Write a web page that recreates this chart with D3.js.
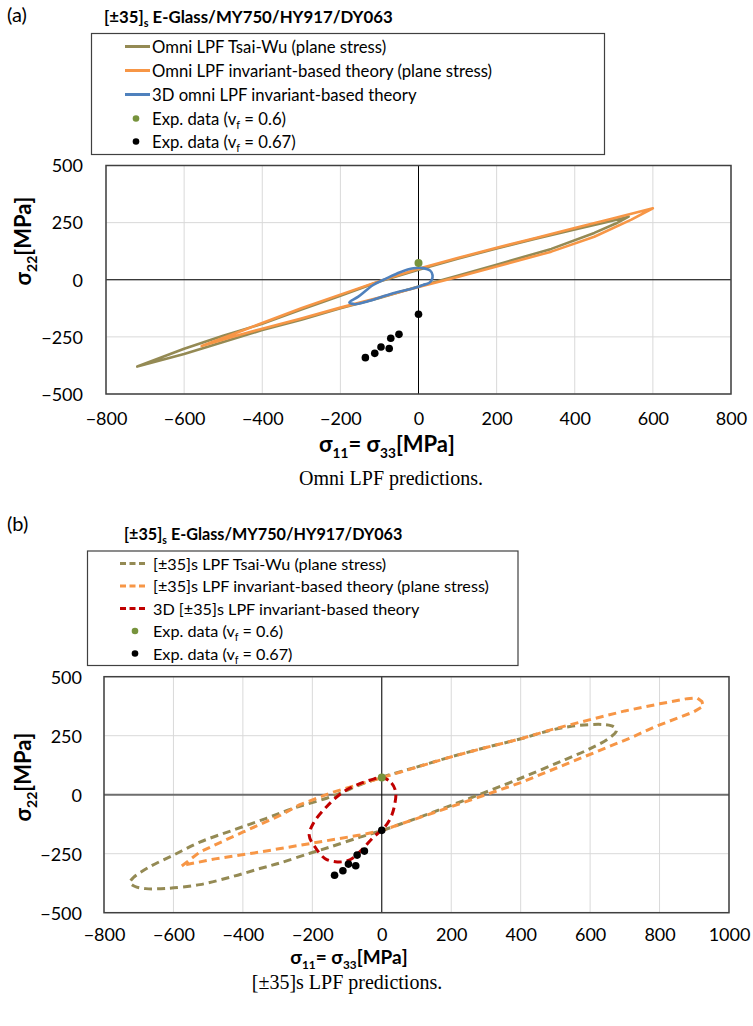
<!DOCTYPE html>
<html>
<head>
<meta charset="utf-8">
<script src="https://cdn.jsdelivr.net/npm/d3@7"></script>
<style>
  body { margin: 0; background: #fff; }
  svg { display: block; }
  .calib { font-family: Lato, "Open Sans", sans-serif; }
  .serif { font-family: "Liberation Serif", "Times New Roman", serif; }
</style>
</head>
<body>
<svg id="chart" width="753" height="1026"></svg>
<script>
// ---------- shared data ----------
const xTicksA = [-800, -600, -400, -200, 0, 200, 400, 600, 800];
const xTicksB = [-800, -600, -400, -200, 0, 200, 400, 600, 800, 1000];
const yTicks = [-500, -250, 0, 250, 500];

// Experimental failure stresses [sigma11 = sigma33, sigma22] in MPa
const expVf060 = [[0, 73]];
const expVf067 = [[0, -151], [-50, -239], [-71, -256], [-75, -301], [-96, -294], [-112, -322], [-136, -341]];

// ---------- (a) omni last-ply-failure envelopes ----------
const omniTsaiWu = [
  [-720, -380], [-600, -302], [-500, -245], [-400, -193], [-300, -130], [-200, -70], [-100, -8],
  [0, 44], [100, 92], [200, 137], [300, 180], [400, 220], [480, 252], [538, 276],
  [505, 246], [450, 205], [340, 135], [200, 66], [100, 18], [0, -30], [-100, -80],
  [-200, -125], [-300, -175], [-400, -220], [-500, -272], [-600, -325]
];
const omniInvariant = [
  [-555, -290], [-450, -222], [-400, -189], [-300, -125], [-200, -65], [-100, -6], [0, 48],
  [100, 95], [200, 140], [300, 183], [400, 226], [500, 269], [600, 313],
  [545, 263], [450, 188], [340, 123], [200, 58], [100, 12], [0, -32], [-100, -78],
  [-200, -122], [-300, -170], [-400, -214], [-480, -252]
];
const omni3D = [
  [-177, -99], [-154, -74], [-116, -23], [-82, 6], [-47, 33], [-13, 50], [12, 51], [30, 40],
  [36, 20], [34, 0], [27, -14], [12, -23], [-13, -37], [-65, -59], [-133, -96], [-163, -107]
];

// ---------- (b) [±35]s last-ply-failure envelopes ----------
const lamTsaiWu = [
  [0, 74], [100, 117], [201, 161], [300, 200], [398, 236], [484, 272], [542, 289], [600, 297],
  [640, 297], [668, 288], [676, 272], [657, 242], [600, 195], [530, 150], [446, 98], [350, 40],
  [200, -45], [100, -100], [0, -152], [-63, -180], [-150, -222], [-207, -248], [-293, -289],
  [-351, -313], [-428, -346], [-524, -381], [-620, -397], [-680, -398], [-712, -388], [-725, -372],
  [-716, -352], [-668, -305], [-600, -256], [-524, -201], [-428, -150], [-332, -100], [-255, -58],
  [-159, -15], [-111, 12], [-63, 42]
];
const lamInvariant = [
  [-576, -302], [-524, -243], [-450, -192], [-399, -158], [-293, -88], [-236, -42], [-140, 11],
  [-63, 45], [0, 72], [100, 116], [201, 161], [300, 200], [398, 236], [494, 278], [600, 318],
  [700, 355], [800, 385], [880, 407], [908, 410], [922, 395], [926, 375], [897, 350], [790, 290],
  [715, 240], [590, 165], [398, 50], [158, -72], [0, -152], [-63, -171], [-207, -207],
  [-351, -243], [-480, -272], [-562, -296]
];
const lam3D = [
  [0, 74], [28, 50], [40, 12], [38, -35], [28, -90], [9, -136], [-24, -180], [-63, -241],
  [-92, -276], [-128, -285], [-164, -270], [-192, -222], [-209, -172], [-197, -121], [-159, -51],
  [-111, 12], [-63, 47], [-24, 66]
];

// ---------- styles ----------
const OLIVE = "#948A54", ORANGE = "#F79646", BLUE = "#4F81BD", RED = "#C00000";
const GREEN = "#77933C", BLACK = "#000000";

const svg = d3.select("#chart");

// Writes text made of normal and subscript runs; shifts are in px so the baseline returns exactly.
function subText(sel, parts, fs, subFs) {
  const shift = fs * 0.26;
  let down = false;
  parts.forEach(([t, sub]) => {
    const ts = sel.append("tspan").text(t);
    if (sub) {
      ts.attr("font-size", subFs);
      if (!down) ts.attr("dy", shift);
      down = true;
    } else {
      if (down) ts.attr("dy", -shift);
      down = false;
    }
  });
}

function drawPanel(cfg) {
  const x = d3.scaleLinear().domain(cfg.xDomain).range([cfg.left, cfg.right]);
  const y = d3.scaleLinear().domain([-500, 500]).range([cfg.bottom, cfg.top]);
  const g = svg.append("g");

  // grid
  g.append("g").selectAll("line").data(cfg.xTicks).join("line")
    .attr("x1", d => x(d)).attr("x2", d => x(d)).attr("y1", cfg.top).attr("y2", cfg.bottom)
    .attr("stroke", "#d9d9d9").attr("stroke-width", 1);
  g.append("g").selectAll("line").data(yTicks).join("line")
    .attr("x1", cfg.left).attr("x2", cfg.right).attr("y1", d => y(d)).attr("y2", d => y(d))
    .attr("stroke", "#d9d9d9").attr("stroke-width", 1);

  // axes through the origin
  g.append("line").attr("x1", cfg.left).attr("x2", cfg.right).attr("y1", y(0)).attr("y2", y(0))
    .attr("stroke", cfg.hZeroColor).attr("stroke-width", cfg.hZeroWidth);
  g.append("line").attr("x1", x(0)).attr("x2", x(0)).attr("y1", cfg.top).attr("y2", cfg.bottom)
    .attr("stroke", "#000").attr("stroke-width", 1);

  // frame
  g.append("rect").attr("x", cfg.left).attr("y", cfg.top)
    .attr("width", cfg.right - cfg.left).attr("height", cfg.bottom - cfg.top)
    .attr("fill", "none").attr("stroke", "#404040").attr("stroke-width", 1.5);

  // tick labels
  const xAxis = d3.axisBottom(x).tickValues(cfg.xTicks).tickSize(0).tickPadding(0)
    .tickFormat(d3.format("d"));
  const xa = g.append("g").attr("transform", `translate(0,${cfg.xTickY})`).call(xAxis);
  xa.select(".domain").remove();
  xa.selectAll("text").attr("class", "calib").attr("font-size", 18).attr("fill", "#000")
    .attr("dy", "0.35em").attr("y", 0);

  const yAxis = d3.axisLeft(y).tickValues(yTicks).tickSize(0).tickPadding(0)
    .tickFormat(d3.format("d"));
  const ya = g.append("g").attr("transform", `translate(${cfg.yTickX},0)`).call(yAxis);
  ya.select(".domain").remove();
  ya.selectAll("text").attr("class", "calib").attr("font-size", 18).attr("fill", "#000")
    .attr("x", 0).attr("dy", "0.35em");

  // curves
  const clip = "clip" + cfg.id;
  svg.append("clipPath").attr("id", clip).append("rect")
    .attr("x", cfg.left).attr("y", cfg.top).attr("width", cfg.right - cfg.left).attr("height", cfg.bottom - cfg.top);
  const cg = g.append("g").attr("clip-path", `url(#${clip})`);
  cfg.series.forEach(s => {
    const line = d3.line().x(d => x(d[0])).y(d => y(d[1])).curve(s.curve);
    cg.append("path").attr("d", line(s.data)).attr("fill", "none")
      .attr("stroke", s.color).attr("stroke-width", s.width)
      .attr("stroke-dasharray", s.dash || null).attr("stroke-linejoin", "round")
      .attr("stroke-linecap", s.dash ? "butt" : "round");
  });
  cg.append("g").selectAll("circle").data(expVf060).join("circle")
    .attr("cx", d => x(d[0])).attr("cy", d => y(d[1])).attr("r", 4).attr("fill", GREEN);
  cg.append("g").selectAll("circle").data(expVf067).join("circle")
    .attr("cx", d => x(d[0])).attr("cy", d => y(d[1])).attr("r", 3.8).attr("fill", BLACK);

  // panel tag and title
  svg.append("text").attr("class", "calib").attr("x", 7).attr("y", cfg.tagY)
    .attr("font-size", 20).text(cfg.tag);
  const title = svg.append("text").attr("class", "calib").attr("x", cfg.titleX).attr("y", cfg.titleY)
    .attr("font-size", cfg.titleFs).attr("font-weight", 700);
  subText(title, [["[±35]", false], ["s", true], [" E-Glass/MY750/HY917/DY063", false]],
    cfg.titleFs, cfg.titleFs * 0.65);

  // legend
  const L = cfg.legend;
  const lg = svg.append("g");
  lg.append("rect").attr("x", L.x).attr("y", L.y).attr("width", L.w).attr("height", L.h)
    .attr("fill", "#fff").attr("stroke", "#404040").attr("stroke-width", 1.2);
  cfg.series.forEach((s, i) => {
    const cy = L.rowY[i];
    lg.append("line").attr("x1", L.symX0).attr("x2", L.symX1)
      .attr("y1", cy).attr("y2", cy).attr("stroke", s.color).attr("stroke-width", 3)
      .attr("stroke-dasharray", s.dash ? "6,3.5" : null);
    lg.append("text").attr("class", "calib").attr("x", L.textX).attr("y", cy + 6)
      .attr("font-size", L.fs).text(s.name);
  });
  [[GREEN, "0.6"], [BLACK, "0.67"]].forEach(([c, v], j) => {
    const cy = L.rowY[3 + j];
    lg.append("circle").attr("cx", L.dotX).attr("cy", cy).attr("r", 3.3).attr("fill", c);
    const t = lg.append("text").attr("class", "calib").attr("x", L.textX).attr("y", cy + 6)
      .attr("font-size", L.fs);
    subText(t, [["Exp. data (v", false], ["f", true], [" = " + v + ")", false]], L.fs, L.fs * 0.65);
  });

  // axis titles
  const xl = svg.append("text").attr("class", "calib").attr("x", cfg.xLabelX).attr("y", cfg.xLabelY)
    .attr("text-anchor", "middle").attr("font-size", cfg.xLabelFs).attr("font-weight", 700);
  subText(xl, [["σ", false], ["11", true], ["= σ", false], ["33", true], ["[MPa]", false]],
    cfg.xLabelFs, cfg.xLabelFs * 0.62);
  const yl = svg.append("text").attr("class", "calib")
    .attr("transform", `translate(${cfg.yLabelX},${cfg.yLabelY}) rotate(-90)`)
    .attr("text-anchor", "middle").attr("font-size", 22).attr("font-weight", 700);
  subText(yl, [["σ", false], ["22", true], ["[MPa]", false]], 22, 14);

  // caption
  svg.append("text").attr("class", "serif").attr("x", cfg.capX).attr("y", cfg.capY)
    .attr("text-anchor", "middle").attr("font-size", 20).text(cfg.caption);
}

drawPanel({
  id: "a", tag: "(a)", tagY: 22, titleX: 104, titleY: 23, titleFs: 16.8,
  left: 106, right: 731, top: 165.5, bottom: 394, xDomain: [-800, 800], xTicks: xTicksA,
  xTickY: 419, yTickX: 83, hZeroColor: "#000", hZeroWidth: 1,
  xLabelX: 387, xLabelY: 452, xLabelFs: 22, yLabelX: 31, yLabelY: 241,
  capX: 391, capY: 485, caption: "Omni LPF predictions.",
  legend: { x: 91.5, y: 33.5, w: 513, h: 121, rowY: [46.5, 70.5, 94.5, 118.5, 141.5],
            symX0: 125, symX1: 150, textX: 152, dotX: 136, fs: 16.7 },
  series: [
    { name: "Omni LPF Tsai-Wu (plane stress)", data: omniTsaiWu, color: OLIVE, width: 2.6, curve: d3.curveLinearClosed },
    { name: "Omni LPF invariant-based theory (plane stress)", data: omniInvariant, color: ORANGE, width: 2.6, curve: d3.curveLinearClosed },
    { name: "3D omni LPF invariant-based theory", data: omni3D, color: BLUE, width: 2.6, curve: d3.curveCatmullRomClosed.alpha(0.5) }
  ]
});

drawPanel({
  id: "b", tag: "(b)", tagY: 531, titleX: 124, titleY: 540, titleFs: 16.2,
  left: 104, right: 729, top: 676.7, bottom: 912.7, xDomain: [-800, 1000], xTicks: xTicksB,
  xTickY: 935, yTickX: 82, hZeroColor: "#6e6e6e", hZeroWidth: 2,
  xLabelX: 349, xLabelY: 964, xLabelFs: 19, yLabelX: 31, yLabelY: 777,
  capX: 347, capY: 989, caption: "[±35]s LPF predictions.",
  legend: { x: 87.5, y: 551, w: 430.5, h: 114.5, rowY: [563.5, 586, 608.5, 631, 653.5],
            symX0: 120, symX1: 148, textX: 153, dotX: 135, fs: 16.2 },
  series: [
    { name: "[±35]s LPF Tsai-Wu (plane stress)", data: lamTsaiWu, color: OLIVE, width: 3, dash: "8,5", curve: d3.curveCatmullRomClosed.alpha(0.5) },
    { name: "[±35]s LPF invariant-based theory (plane stress)", data: lamInvariant, color: ORANGE, width: 3, dash: "8,5", curve: d3.curveLinearClosed },
    { name: "3D [±35]s LPF invariant-based theory", data: lam3D, color: RED, width: 3, dash: "8,5", curve: d3.curveCatmullRomClosed.alpha(0.5) }
  ]
});
</script>
</body>
</html>
